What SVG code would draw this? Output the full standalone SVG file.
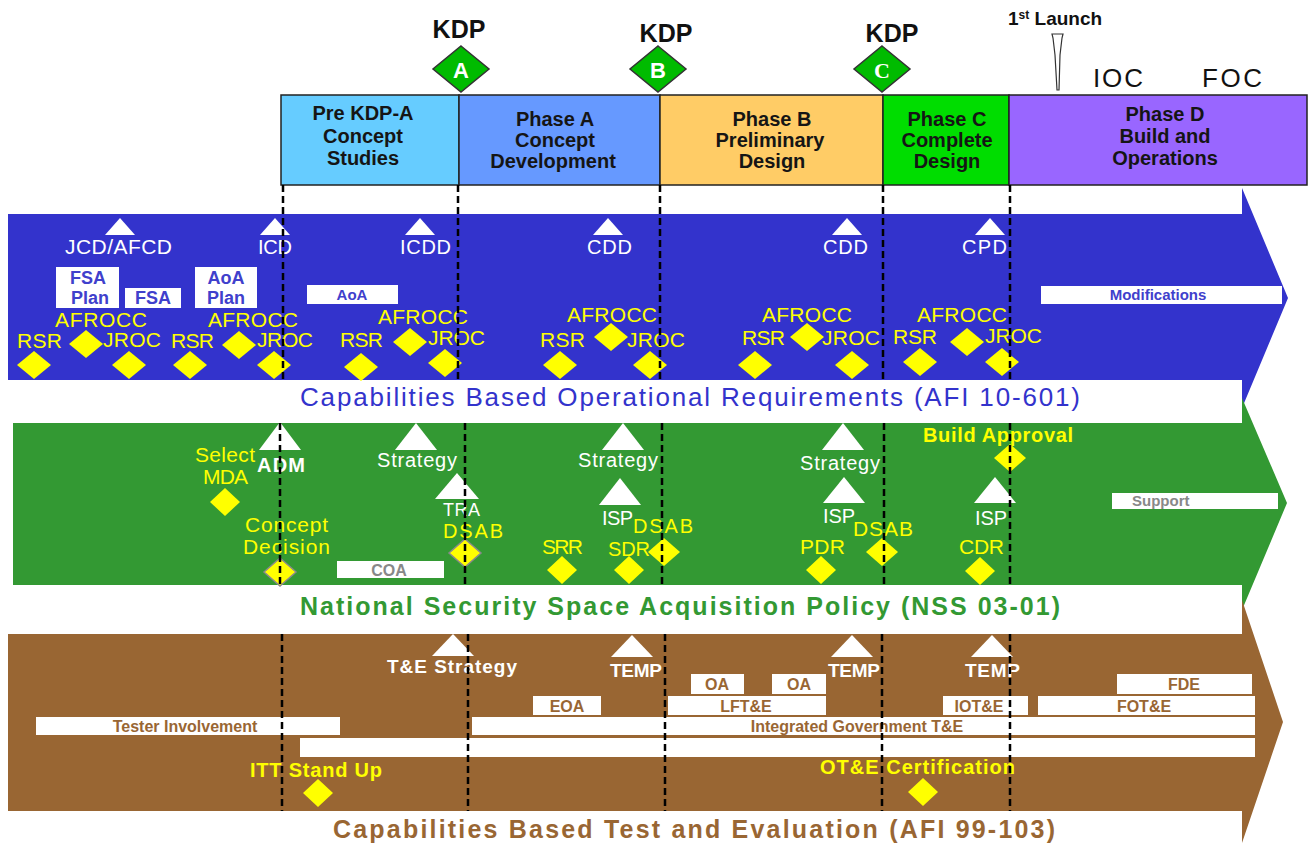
<svg xmlns="http://www.w3.org/2000/svg" width="1308" height="846" viewBox="0 0 1308 846">
<style>
text{font-family:"Liberation Sans",Arial,sans-serif}
.ph{font-size:20px;font-weight:bold;fill:#151515;text-anchor:middle}
.box{stroke:#222;stroke-width:1.5}
.kdp{font-size:25px;font-weight:bold;fill:#111;text-anchor:middle}
.kd{fill:#00BB00;stroke:#333;stroke-width:1.5}
.kl{font-size:22px;font-weight:bold;fill:#fff;text-anchor:middle}
.wl{font-size:20px;fill:#fff}
.wb{font-size:19px;font-weight:bold;fill:#fff}
.yl{font-size:21px;fill:#FFFF00}
.yb{font-size:20px;font-weight:bold;fill:#FFFF00}
.yd{fill:#FFFF00}
.ydg{fill:#FFFF00;stroke:#8a8a8a;stroke-width:1.5}
.tri{fill:#fff}
.wr{fill:#fff}
.bt{font-size:18px;font-weight:bold;fill:#4040CC;text-anchor:middle}
.gt{font-size:16px;font-weight:bold;fill:#888;text-anchor:middle}
.rt{font-size:16px;font-weight:bold;fill:#996633;text-anchor:middle}
.dash{stroke:#000;stroke-width:2.5;stroke-dasharray:7 4;fill:none}
</style>
<rect width="1308" height="846" fill="#fff"/>

<g id="phases">
  <g id="phase-pre"><rect class="box" x="281" y="95" width="178" height="90" fill="#66CCFF"/>
    <text class="ph" x="363" y="120">Pre KDP-A</text><text class="ph" x="363" y="143">Concept</text><text class="ph" x="363" y="165">Studies</text></g>
  <g id="phase-a"><rect class="box" x="459" y="95" width="201" height="90" fill="#6699FF"/>
    <text class="ph" x="555" y="126">Phase A</text><text class="ph" x="555" y="147">Concept</text><text class="ph" x="553" y="168">Development</text></g>
  <g id="phase-b"><rect class="box" x="660" y="95" width="223" height="90" fill="#FFCC66"/>
    <text class="ph" x="772" y="126">Phase B</text><text class="ph" x="770" y="147">Preliminary</text><text class="ph" x="772" y="168">Design</text></g>
  <g id="phase-c"><rect class="box" x="883" y="95" width="126" height="90" fill="#00DD00"/>
    <text class="ph" x="947" y="126">Phase C</text><text class="ph" x="947" y="147">Complete</text><text class="ph" x="947" y="168">Design</text></g>
  <g id="phase-d"><rect class="box" x="1009" y="95" width="298" height="90" fill="#9966FF"/>
    <text class="ph" x="1165" y="121">Phase D</text><text class="ph" x="1165" y="143">Build and</text><text class="ph" x="1165" y="165">Operations</text></g>
</g>

<g id="kdps">
  <g id="kdp-a"><text class="kdp" x="459" y="38">KDP</text><polygon class="kd" points="461,46 489,69 461,92 433,69"/><text class="kl" x="461" y="78">A</text></g>
  <g id="kdp-b"><text class="kdp" x="666" y="42">KDP</text><polygon class="kd" points="658,46 686,69 658,92 630,69"/><text class="kl" x="658" y="78">B</text></g>
  <g id="kdp-c"><text class="kdp" x="892" y="42">KDP</text><polygon class="kd" points="882,46 910,69 882,92 854,69"/><text class="kl" x="882" y="78" style="font-family:'Liberation Serif',serif">C</text></g>
  <g id="launch"><text x="1008" y="25" style="font-size:19px;font-weight:bold;fill:#111">1<tspan dy="-6" style="font-size:12px">st</tspan><tspan dy="6"> Launch</tspan></text>
    <polygon points="1052,34 1063,34 1062,38 1060,55 1059,90 1057,90 1055,55 1053,38" fill="#fff" stroke="#333" stroke-width="1.2"/></g>
  <text x="1093" y="87" textLength="50" style="font-size:26px;fill:#111">IOC</text>
  <text x="1202" y="87" textLength="60" style="font-size:26px;fill:#111">FOC</text>
</g>

<g id="band-requirements">
  <polygon points="8,214 1242,214 1242,188 1288,298 1242,408 1242,380 8,380" fill="#3333CC"/>
  <g id="req-triangles">
    <polygon class="tri" points="120,218 135,235 105,235"/><polygon class="tri" points="275,218 290,235 260,235"/>
    <polygon class="tri" points="420,218 435,235 405,235"/><polygon class="tri" points="608,218 623,235 593,235"/>
    <polygon class="tri" points="847,218 862,235 832,235"/><polygon class="tri" points="990,218 1005,235 975,235"/>
  </g>
  <text class="wl" x="65" y="254" textLength="107" style="font-size:21px">JCD/AFCD</text>
  <text class="wl" x="258" y="254" textLength="34">ICD</text>
  <text class="wl" x="400" y="254" textLength="51">ICDD</text>
  <text class="wl" x="587" y="254" textLength="45">CDD</text>
  <text class="wl" x="823" y="254" textLength="45">CDD</text>
  <text class="wl" x="962" y="254" textLength="45">CPD</text>
  <g id="req-boxes">
    <rect class="wr" x="56" y="267" width="63" height="41"/><text class="bt" x="88" y="284">FSA</text><text class="bt" x="90" y="304">Plan</text>
    <rect class="wr" x="125" y="288" width="56" height="20"/><text class="bt" x="153" y="304">FSA</text>
    <rect class="wr" x="195" y="267" width="62" height="41"/><text class="bt" x="226" y="284">AoA</text><text class="bt" x="226" y="304">Plan</text>
    <rect class="wr" x="307" y="285" width="91" height="19"/><text class="bt" x="352" y="300" style="font-size:15px">AoA</text>
    <rect class="wr" x="1041" y="286" width="241" height="18"/><text class="bt" x="1158" y="300" style="font-size:15px">Modifications</text>
  </g>
  <g id="req-labels">
    <text class="yl" x="55" y="327" textLength="92">AFROCC</text><text class="yl" x="17" y="348" textLength="45">RSR</text><text class="yl" x="103" y="347" textLength="58">JROC</text>
    <text class="yl" x="208" y="327" textLength="90">AFROCC</text><text class="yl" x="171" y="348" textLength="43">RSR</text><text class="yl" x="257" y="347" textLength="56">JROC</text>
    <text class="yl" x="378" y="324" textLength="90">AFROCC</text><text class="yl" x="340" y="347" textLength="43">RSR</text><text class="yl" x="428" y="345" textLength="57">JROC</text>
    <text class="yl" x="567" y="322" textLength="90">AFROCC</text><text class="yl" x="540" y="347" textLength="45">RSR</text><text class="yl" x="627" y="347" textLength="58">JROC</text>
    <text class="yl" x="762" y="322" textLength="90">AFROCC</text><text class="yl" x="742" y="345" textLength="43">RSR</text><text class="yl" x="822" y="345" textLength="58">JROC</text>
    <text class="yl" x="917" y="322" textLength="90">AFROCC</text><text class="yl" x="893" y="344" textLength="44">RSR</text><text class="yl" x="985" y="343" textLength="57">JROC</text>
  </g>
  <g id="req-diamonds">
    <polygon class="yd" points="34,351 51,365 34,379 17,365"/><polygon class="yd" points="86,330 103,344 86,358 69,344"/><polygon class="yd" points="129,351 146,365 129,379 112,365"/>
    <polygon class="yd" points="190,351 207,365 190,379 173,365"/><polygon class="yd" points="239,331 256,345 239,359 222,345"/><polygon class="yd" points="274,351 291,365 274,379 257,365"/>
    <polygon class="yd" points="361,353 378,367 361,381 344,367"/><polygon class="yd" points="410,328 427,342 410,356 393,342"/><polygon class="yd" points="445,349 462,363 445,377 428,363"/>
    <polygon class="yd" points="560,351 577,365 560,379 543,365"/><polygon class="yd" points="611,323 628,337 611,351 594,337"/><polygon class="yd" points="650,351 667,365 650,379 633,365"/>
    <polygon class="yd" points="755,351 772,365 755,379 738,365"/><polygon class="yd" points="807,323 824,337 807,351 790,337"/><polygon class="yd" points="852,351 869,365 852,379 835,365"/>
    <polygon class="yd" points="920,348 937,362 920,376 903,362"/><polygon class="yd" points="967,328 984,342 967,356 950,342"/><polygon class="yd" points="1002,348 1019,362 1002,376 985,362"/>
  </g>
  <text x="300" y="406" textLength="780" style="font-size:26px;fill:#3333CC">Capabilities Based Operational Requirements  (AFI 10-601)</text>
</g>

<g id="band-acquisition">
  <polygon points="13,423 1242,423 1242,398 1287,503 1242,610 1242,585 13,585" fill="#339933"/>
  <g id="acq-triangles">
    <polygon class="tri" points="280,422 301,450 259,450"/><polygon class="tri" points="416,423 437,450 395,450"/>
    <polygon class="tri" points="457,473 479,499 435,499"/><polygon class="tri" points="623,423 644,450 602,450"/>
    <polygon class="tri" points="620,478 641,505 599,505"/><polygon class="tri" points="843,423 864,450 822,450"/>
    <polygon class="tri" points="844,477 865,503 823,503"/><polygon class="tri" points="995,477 1016,503 974,503"/>
  </g>
  <text class="wb" x="257" y="472" textLength="48" style="font-size:20px">ADM</text>
  <text class="wl" x="377" y="467" textLength="80">Strategy</text>
  <text class="wl" x="443" y="516" textLength="37" style="font-size:18px">TRA</text>
  <text class="wl" x="578" y="467" textLength="80">Strategy</text>
  <text class="wl" x="602" y="525" textLength="31">ISP</text>
  <text class="wl" x="800" y="470" textLength="80">Strategy</text>
  <text class="wl" x="823" y="523" textLength="32">ISP</text>
  <text class="wl" x="975" y="525" textLength="32">ISP</text>
  <g id="acq-labels">
    <text class="yl" x="195" y="462" textLength="60">Select</text><text class="yl" x="203" y="484" textLength="45">MDA</text>
    <text class="yl" x="245" y="532" textLength="83">Concept</text><text class="yl" x="243" y="554" textLength="87">Decision</text>
    <text class="yl" x="443" y="538" textLength="60" style="font-size:20px">DSAB</text>
    <text class="yl" x="542" y="554" textLength="41">SRR</text><text class="yl" x="608" y="556" textLength="42" style="font-size:20px">SDR</text>
    <text class="yl" x="633" y="533" textLength="60" style="font-size:20px">DSAB</text>
    <text class="yl" x="800" y="554" textLength="45">PDR</text>
    <text class="yl" x="853" y="536" textLength="60">DSAB</text>
    <text class="yb" x="923" y="442" textLength="150">Build Approval</text>
    <text class="yl" x="959" y="554" textLength="45">CDR</text>
  </g>
  <g id="acq-diamonds">
    <polygon class="yd" points="225,488 240,502 225,516 210,502"/>
    <polygon class="ydg" points="280,558 296,572 280,586 264,572"/>
    <polygon class="ydg" points="465,539 481,553 465,567 449,553"/>
    <polygon class="yd" points="562,556 577,570 562,584 547,570"/>
    <polygon class="yd" points="629,556 644,570 629,584 614,570"/>
    <polygon class="yd" points="664,538 680,552 664,566 648,552"/>
    <polygon class="yd" points="821,556 836,570 821,584 806,570"/>
    <polygon class="yd" points="882,538 898,552 882,566 866,552"/>
    <polygon class="yd" points="1010,444 1026,458 1010,472 994,458"/>
    <polygon class="yd" points="980,557 995,571 980,585 965,571"/>
  </g>
  <rect class="wr" x="337" y="561" width="107" height="17"/><text class="gt" x="389" y="576">COA</text>
  <rect class="wr" x="1112" y="493" width="166" height="16"/><text class="gt" x="1132" y="506" style="text-anchor:start;font-size:15px">Support</text>
  <text x="300" y="615" textLength="760" style="font-size:25px;font-weight:bold;fill:#339933">National Security Space Acquisition Policy (NSS 03-01)</text>
</g>

<g id="band-test">
  <polygon points="8,634 1242,634 1242,600 1283,722 1242,843 1242,811 8,811" fill="#996633"/>
  <g id="te-triangles">
    <polygon class="tri" points="453,634 474,656 432,656"/><polygon class="tri" points="632,635 653,657 611,657"/>
    <polygon class="tri" points="852,635 873,657 831,657"/><polygon class="tri" points="992,635 1013,657 971,657"/>
  </g>
  <text class="wb" x="387" y="673" textLength="130">T&amp;E Strategy</text>
  <text class="wb" x="610" y="677" textLength="52">TEMP</text>
  <text class="wb" x="828" y="677" textLength="52">TEMP</text>
  <text class="wb" x="965" y="677" textLength="55">TEMP</text>
  <g id="te-boxes">
    <rect class="wr" x="691" y="674" width="53" height="20"/><text class="rt" x="717" y="690">OA</text>
    <rect class="wr" x="772" y="674" width="54" height="20"/><text class="rt" x="799" y="690">OA</text>
    <rect class="wr" x="1117" y="674" width="135" height="20"/><text class="rt" x="1184" y="690">FDE</text>
    <rect class="wr" x="533" y="696" width="68" height="19"/><text class="rt" x="567" y="712">EOA</text>
    <rect class="wr" x="668" y="696" width="158" height="19"/><text class="rt" x="746" y="712">LFT&amp;E</text>
    <rect class="wr" x="943" y="696" width="85" height="19"/><text class="rt" x="979" y="712">IOT&amp;E</text>
    <rect class="wr" x="1038" y="696" width="217" height="19"/><text class="rt" x="1144" y="712">FOT&amp;E</text>
    <rect class="wr" x="36" y="717" width="304" height="18"/><text class="rt" x="185" y="732">Tester Involvement</text>
    <rect class="wr" x="472" y="717" width="783" height="18"/><text class="rt" x="857" y="732">Integrated Government T&amp;E</text>
    <rect class="wr" x="300" y="738" width="955" height="19"/>
  </g>
  <text class="yb" x="250" y="777" textLength="132">ITT Stand Up</text>
  <polygon class="yd" points="318,779 333,793 318,807 303,793"/>
  <text class="yb" x="820" y="774" textLength="195">OT&amp;E  Certification</text>
  <polygon class="yd" points="923,778 938,792 923,806 908,792"/>
  <text x="333" y="838" textLength="722" style="font-size:25px;font-weight:bold;fill:#996633">Capabilities Based Test and Evaluation  (AFI 99-103)</text>
</g>

<g id="connectors">
  <path class="dash" d="M283,185V380M458,185V380M660,185V380M883,185V380M1010,185V380"/>
  <path class="dash" d="M280,423V585M465,423V585M662,423V585M884,423V585M1010,423V585"/>
  <path class="dash" d="M282,634V811M468,634V811M665,634V811M882,634V811M1010,634V811"/>
</g>
</svg>
